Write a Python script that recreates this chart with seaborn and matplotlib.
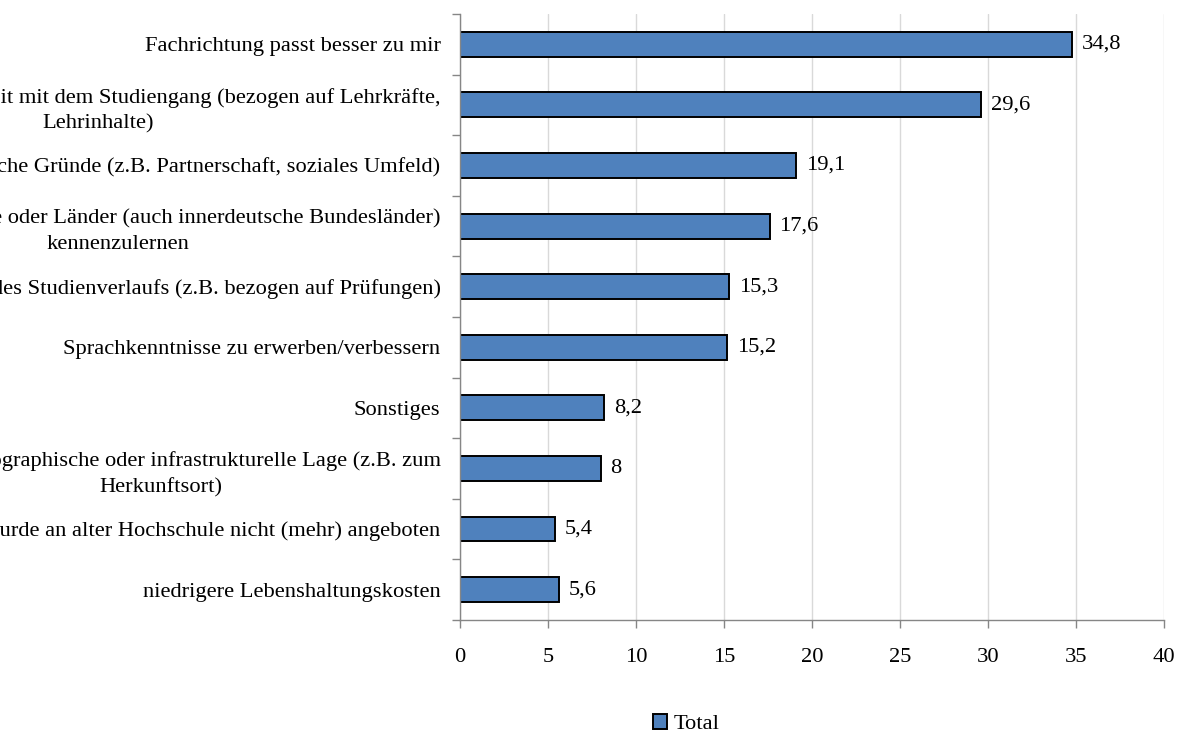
import numpy as np
import pandas as pd
import matplotlib
matplotlib.use("Agg")
import matplotlib.pyplot as plt
import seaborn as sns


# Data
REASONS = [
    "Fachrichtung passt besser zu mir",
    "Allgemeine Unzufriedenheit mit dem Studiengang (bezogen auf Lehrkräfte,\nLehrinhalte)",
    "Persönliche Gründe (z.B. Partnerschaft, soziales Umfeld)",
    "Wunsch, andere Städte oder Länder (auch innerdeutsche Bundesländer)\nkennenzulernen",
    "Probleme bei der Organisation des Studienverlaufs (z.B. bezogen auf Prüfungen)",
    "Sprachkenntnisse zu erwerben/verbessern",
    "Sonstiges",
    "Günstige geographische oder infrastrukturelle Lage (z.B. zum\nHerkunftsort)",
    "Studiengang wurde an alter Hochschule nicht (mehr) angeboten",
    "niedrigere Lebenshaltungskosten",
]
TOTAL = [34.8, 29.6, 19.1, 17.6, 15.3, 15.2, 8.2, 8.0, 5.4, 5.6]
X_TICKS = [0, 5, 10, 15, 20, 25, 30, 35, 40]

BAR_COLOR = "#4F81BD"
GRID_COLOR = "#D9D9D9"
AXIS_COLOR = "#868686"
FONT = "Liberation Serif"
FS = 16.2


def fmt_de(v):
    return f"{v:g}".replace(".", ",")


def plot_chart(df: pd.DataFrame):

    sns.set_style("white")
    plt.rcParams["font.family"] = [FONT, "DejaVu Serif"]
    plt.rcParams["text.color"] = "black"
    plt.rcParams["xtick.color"] = "black"
    plt.rcParams["ytick.color"] = "black"

    fig = plt.figure(figsize=(11.8, 7.33), dpi=100)
    ax = fig.add_axes([0.3898, 0.1542, 0.5966, 0.8267])

    sns.barplot(
        data=df, x="total", y="reason", ax=ax,
        color=BAR_COLOR, edgecolor="black", linewidth=1.4,
        width=0.41, saturation=1, label="Total",
    )

    ax.set_xlim(0, 40)
    ax.set_ylim(len(df) - 0.5, -0.5)
    ax.set_xticks(X_TICKS)
    ax.set_xticklabels([str(t) for t in X_TICKS], fontsize=FS)

    # category labels: lines centred, block right aligned
    ax.set_yticks(range(len(df)))
    ax.set_yticklabels(df["reason"], fontsize=FS, multialignment="center",
                       linespacing=1.45)
    ax.tick_params(axis="y", which="major", left=False, length=0, pad=14)
    ax.set_yticks(np.arange(-0.5, len(df), 1.0), minor=True)
    ax.tick_params(axis="y", which="minor", left=True, length=6, width=1,
                   color=AXIS_COLOR, direction="out")
    ax.tick_params(axis="x", which="major", bottom=True, length=6, width=1,
                   color=AXIS_COLOR, direction="out", pad=14)

    ax.set_xlabel("")
    ax.set_ylabel("")

    ax.grid(axis="x", color=GRID_COLOR, linewidth=1)
    ax.set_axisbelow(True)

    for side in ["top", "right"]:
        ax.spines[side].set_visible(False)
    for side in ["left", "bottom"]:
        ax.spines[side].set_color(AXIS_COLOR)
        ax.spines[side].set_linewidth(1)

    # value labels
    for i, v in enumerate(df["total"]):
        ax.text(v + 0.55, i, fmt_de(v), va="center", ha="left", fontsize=FS)

    if ax.get_legend():
        ax.get_legend().remove()
    fig.legend(
        loc="center", bbox_to_anchor=(0.582, 0.012), frameon=False,
        fontsize=FS, handlelength=0.62, handleheight=0.62, handletextpad=0.3,
        borderpad=0,
    )

    fig.savefig("out.png", dpi=100)


def main():
    df = pd.DataFrame({"reason": REASONS, "total": TOTAL})
    plot_chart(df)


if __name__ == "__main__":
    main()
